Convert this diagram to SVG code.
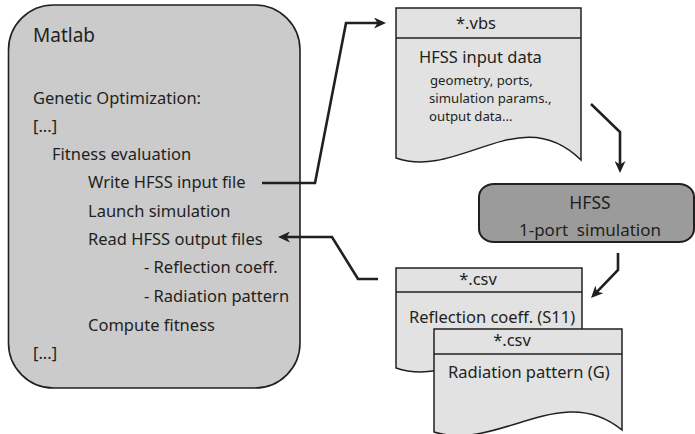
<svg xmlns="http://www.w3.org/2000/svg" width="695" height="434" viewBox="0 0 695 434">
<style>
text{font-family:"Noto Sans","Open Sans","Liberation Sans",sans-serif;fill:#231f20}
.t{font-size:16.5px}
.s{font-size:13.2px}
.doc{fill:#e2e2e2;stroke:#231f20;stroke-width:1.5}
.conn{fill:none;stroke:#231f20;stroke-width:2.6}
</style>
<defs>
<marker id="ah" viewBox="0 0 12 11" refX="8" refY="5.5" markerWidth="12" markerHeight="11" markerUnits="userSpaceOnUse" orient="auto">
<path d="M0,0 L12,5.5 L0,11 L3.5,5.5 Z" fill="#231f20"/>
</marker>
</defs>
<g id="matlab">
<rect x="8.5" y="5" width="291.5" height="383" rx="45" ry="45" fill="#cbcbcb" stroke="#231f20" stroke-width="1.6"/>
<text x="33" y="42" style="font-size:19px">Matlab</text>
<text class="t" x="33" y="104">Genetic Optimization:</text>
<text class="t" x="33" y="132">[...]</text>
<text class="t" x="52" y="160">Fitness evaluation</text>
<text class="t" x="88" y="188">Write HFSS input file</text>
<text class="t" x="88" y="217">Launch simulation</text>
<text class="t" x="88" y="245">Read HFSS output files</text>
<text class="t" x="144" y="273">- Reflection coeff.</text>
<text class="t" x="144" y="302">- Radiation pattern</text>
<text class="t" x="88" y="331">Compute fitness</text>
<text class="t" x="33" y="359">[...]</text>
</g>
<g id="vbs">
<path class="doc" d="M396,8 H581 V160 C520,100 460,180 396,158 Z"/>
<path d="M396,38 H581" stroke="#231f20" stroke-width="1.5"/>
<text class="t" x="476" y="29" text-anchor="middle">*.vbs</text>
<text class="t" x="419" y="63">HFSS input data</text>
<text class="s" x="430" y="85">geometry, ports,</text>
<text class="s" x="429" y="103">simulation params.,</text>
<text class="s" x="429" y="121">output data...</text>
</g>
<g id="hfss">
<rect x="479" y="184" width="215" height="58" rx="15" ry="13" fill="#9b9b9b" stroke="#231f20" stroke-width="2"/>
<text x="590" y="209" text-anchor="middle" style="font-size:17.5px">HFSS</text>
<text x="590" y="236" text-anchor="middle" style="font-size:17px" xml:space="preserve">1-port  simulation</text>
</g>
<g id="csv1">
<path class="doc" d="M396,268 H582 V370 C521,310 460,390 396,368 Z"/>
<path d="M396,292 H582" stroke="#231f20" stroke-width="1.5"/>
<text class="t" x="478" y="285" text-anchor="middle">*.csv</text>
<text class="t" x="409" y="323">Reflection coeff. (S11)</text>
</g>
<g id="csv2">
<path class="doc" d="M434,329 H622 V430 C561,380 498,452 434,432 Z"/>
<path d="M434,354 H622" stroke="#231f20" stroke-width="1.5"/>
<text class="t" x="512" y="346" text-anchor="middle">*.csv</text>
<text class="t" x="448" y="378">Radiation pattern (G)</text>
</g>
<g id="connectors">
<path class="conn" d="M262,183 H315 L346,23 H382" marker-end="url(#ah)"/>
<path class="conn" d="M378,279 H358 L332,237 H282" marker-end="url(#ah)"/>
<path class="conn" d="M591,104 L620,132 V169" marker-end="url(#ah)"/>
<path class="conn" d="M618,253 V270 L593.8,295.1" marker-end="url(#ah)"/>
</g>
</svg>
